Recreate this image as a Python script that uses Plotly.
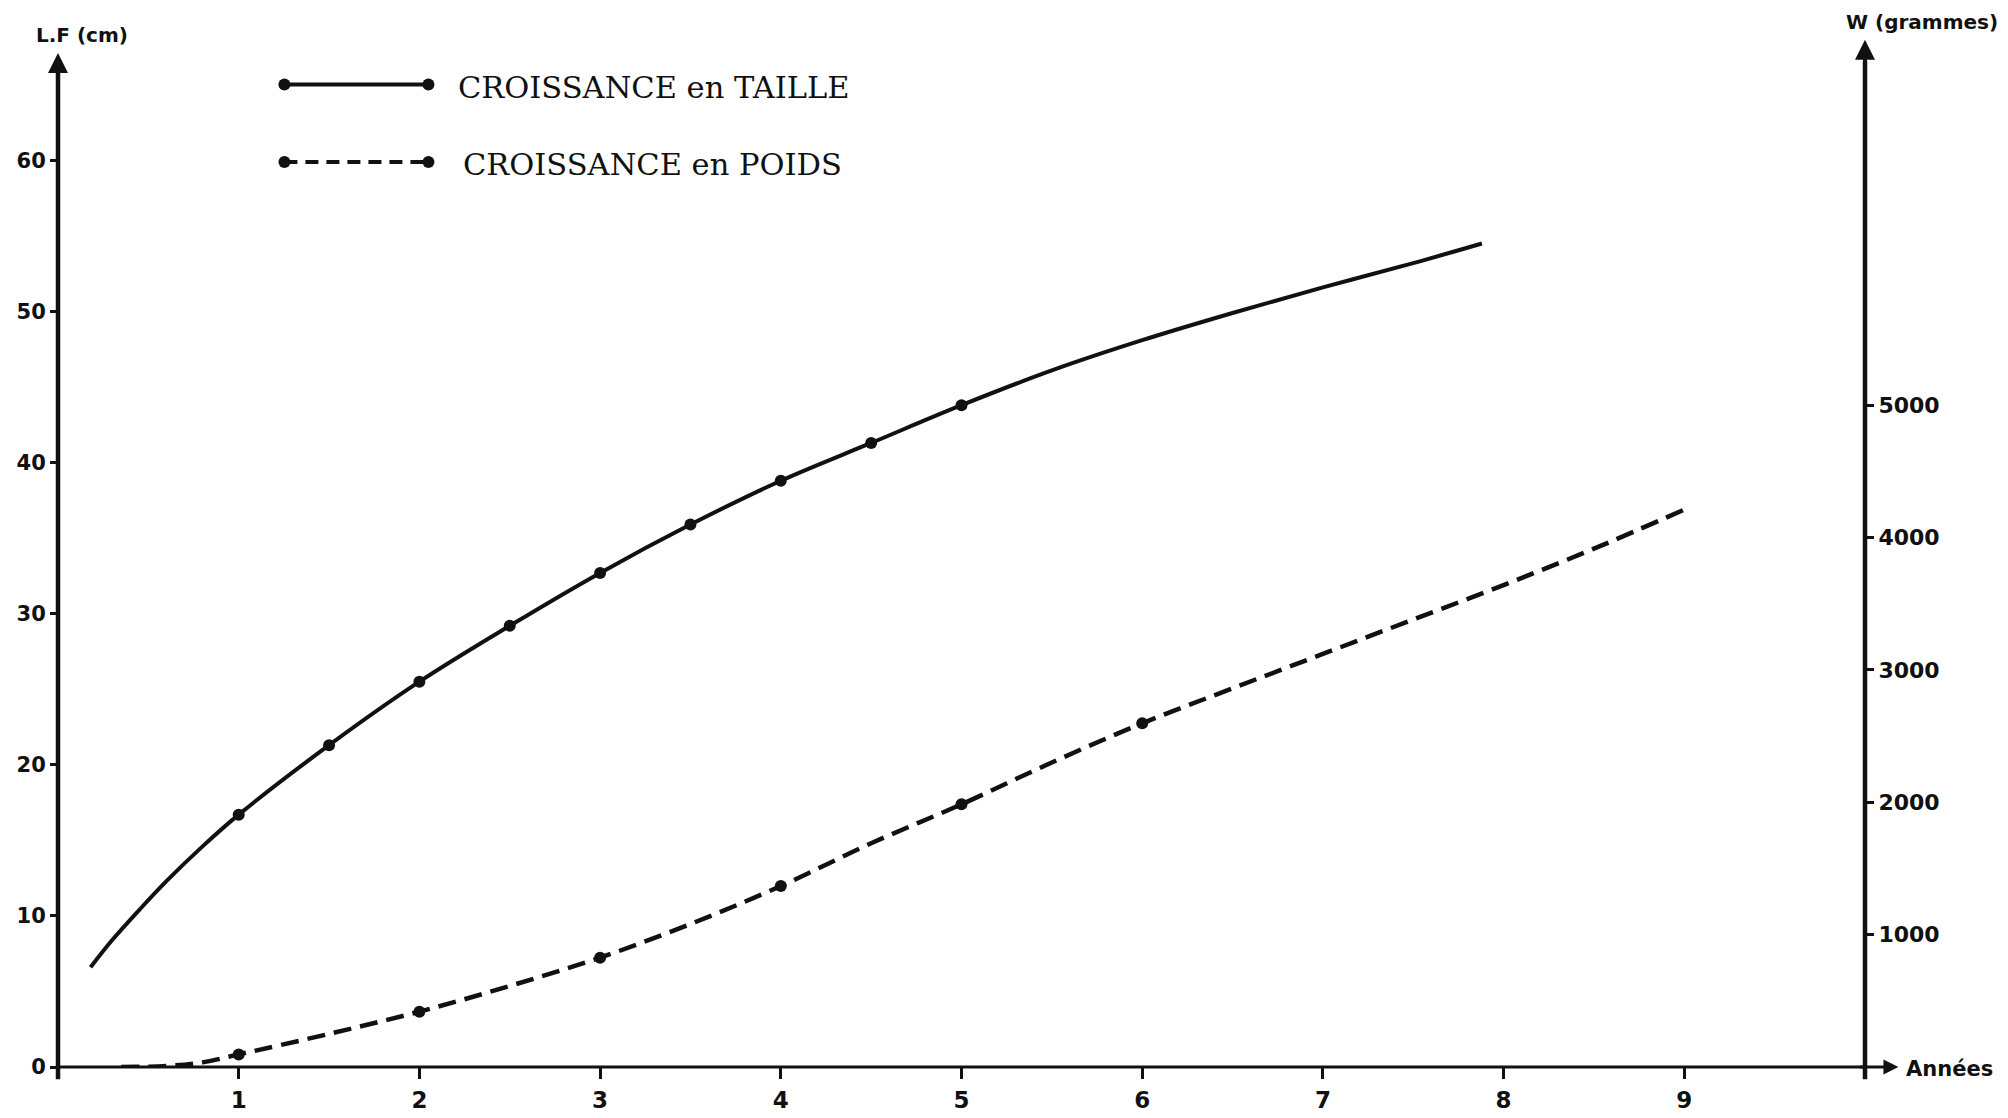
import plotly.graph_objects as go

# Croissance en taille : longueur à la fourche (cm) selon l'âge (années)
taille_annees = [0.18, 0.3, 0.45, 0.6, 0.8, 1, 1.5, 2, 2.5, 3, 3.5, 4, 4.5,
                 5, 5.5, 6, 6.5, 7, 7.5, 7.88]
taille_cm = [6.6, 8.4, 10.4, 12.3, 14.6, 16.7, 21.3, 25.5, 29.2, 32.7, 35.9,
             38.8, 41.3, 43.8, 46.1, 48.1, 49.9, 51.6, 53.2, 54.5]
taille_points = [1, 1.5, 2, 2.5, 3, 3.5, 4, 4.5, 5]

# Croissance en poids (grammes) selon l'âge (années)
poids_annees = [0.35, 0.6, 0.8, 1, 1.5, 2, 2.5, 3, 3.5, 4, 4.5, 5, 5.5, 6,
                6.5, 7, 7.5, 8, 8.5, 9]
poids_g = [0, 8, 35, 95, 250, 418, 612, 826, 1080, 1367, 1690, 1984, 2300,
           2596, 2860, 3120, 3380, 3640, 3915, 4210]
poids_points = [1, 2, 3, 4, 5, 6]

annees_ticks = [1, 2, 3, 4, 5, 6, 7, 8, 9]
cm_ticks = [0, 10, 20, 30, 40, 50, 60]
g_ticks = [1000, 2000, 3000, 4000, 5000]

legende = ["CROISSANCE en TAILLE", "CROISSANCE en POIDS"]

INK = "#111111"
BOLD = dict(family="DejaVu Sans", color=INK, weight="bold")
SERIF = dict(family="DejaVu Serif", color=INK)

fig = go.Figure()

# courbe de taille (axe de gauche)
fig.add_trace(go.Scatter(
    x=taille_annees, y=taille_cm, mode="lines",
    line=dict(color=INK, width=4, shape="spline", smoothing=1.0),
    hoverinfo="skip"))
tx = [a for a in taille_annees if a in taille_points]
ty = [v for a, v in zip(taille_annees, taille_cm) if a in taille_points]
fig.add_trace(go.Scatter(
    x=tx, y=ty, mode="markers",
    marker=dict(color=INK, size=12, symbol="circle")))

# courbe de poids (axe de droite)
fig.add_trace(go.Scatter(
    x=poids_annees, y=poids_g, mode="lines", yaxis="y2",
    line=dict(color=INK, width=4.5, dash="18px,9px", shape="spline",
              smoothing=1.0),
    hoverinfo="skip"))
px_ = [a for a in poids_annees if a in poids_points]
py_ = [v for a, v in zip(poids_annees, poids_g) if a in poids_points]
fig.add_trace(go.Scatter(
    x=px_, y=py_, mode="markers", yaxis="y2",
    marker=dict(color=INK, size=12, symbol="circle")))

# échantillons de la légende sur un repère fixe [0,1]
leg_y = [0.967, 0.8907]
leg_x = [0.1253, 0.205]
fig.add_trace(go.Scatter(
    x=leg_x, y=[leg_y[0]] * 2, xaxis="x3", yaxis="y3", mode="lines+markers",
    line=dict(color=INK, width=4), marker=dict(color=INK, size=12),
    cliponaxis=False, hoverinfo="skip"))
fig.add_trace(go.Scatter(
    x=leg_x, y=[leg_y[1]] * 2, xaxis="x3", yaxis="y3", mode="lines+markers",
    line=dict(color=INK, width=4, dash="13px,8px"),
    marker=dict(color=INK, size=12),
    cliponaxis=False, hoverinfo="skip"))

annotations = [
    dict(text=legende[0], xref="paper", yref="paper", x=0.22, y=0.9636,
         xanchor="left", yanchor="middle", showarrow=False,
         font=dict(size=30.5, **SERIF)),
    dict(text=legende[1], xref="paper", yref="paper", x=0.2232, y=0.8878,
         xanchor="left", yanchor="middle", showarrow=False,
         font=dict(size=30.5, **SERIF)),
    dict(text="L.F (cm)", xref="paper", yref="paper", x=0.0135, y=1.0157,
         xanchor="center", yanchor="middle", showarrow=False,
         font=dict(size=20, **BOLD)),
    dict(text="W (grammes)", xref="paper", yref="paper", x=1.0317, y=1.0285,
         xanchor="center", yanchor="middle", showarrow=False,
         font=dict(size=20, **BOLD)),
    dict(text="Années", xref="paper", yref="paper", x=1.0218, y=-0.002,
         xanchor="left", yanchor="middle", showarrow=False,
         font=dict(size=21, **BOLD)),
    # flèches des axes
    dict(text="", xref="paper", yref="paper", x=0, y=0.998, ax=0, ay=40,
         showarrow=True, arrowhead=2, arrowsize=1, arrowwidth=4,
         arrowcolor=INK, standoff=0),
    dict(text="", xref="paper", yref="paper", x=1, y=1.011, ax=0, ay=40,
         showarrow=True, arrowhead=2, arrowsize=1, arrowwidth=4,
         arrowcolor=INK, standoff=0),
    dict(text="", xref="paper", yref="paper", x=1.0185, y=0, ax=-40, ay=0,
         showarrow=True, arrowhead=2, arrowsize=1, arrowwidth=3,
         arrowcolor=INK, standoff=0),
]

shapes = [
    dict(type="line", xref="paper", yref="paper", x0=0, x1=0, y0=-0.012,
         y1=0.985, line=dict(color=INK, width=4.5)),
    dict(type="line", xref="paper", yref="paper", x0=1, x1=1, y0=-0.012,
         y1=0.99, line=dict(color=INK, width=4.5)),
    dict(type="line", xref="paper", yref="paper", x0=0, x1=1.0, y0=0,
         y1=0, line=dict(color=INK, width=3)),
]

fig.update_layout(
    width=2008, height=1118,
    margin=dict(l=58, r=143, t=51, b=51, autoexpand=False),
    paper_bgcolor="white", plot_bgcolor="white",
    showlegend=False,
    annotations=annotations, shapes=shapes,
    xaxis=dict(range=[0, 10], tickvals=annees_ticks, ticks="outside",
               ticklen=11, tickwidth=3, tickcolor=INK, showline=False,
               showgrid=False, zeroline=False, automargin=False,
               ticklabelstandoff=1,
               tickfont=dict(size=23, **BOLD)),
    yaxis=dict(range=[0, 67.24], tickvals=cm_ticks, ticks="outside",
               ticklen=7, tickwidth=3, tickcolor=INK, showline=False,
               showgrid=False, zeroline=False, automargin=False,
               tickfont=dict(size=21, **BOLD)),
    yaxis2=dict(range=[0, 7674], tickvals=g_ticks, ticks="outside",
                ticklen=8, tickwidth=3, tickcolor=INK, showline=False,
                showgrid=False, zeroline=False, overlaying="y", side="right",
                automargin=False,
                tickfont=dict(size=22, **BOLD)),
    xaxis3=dict(range=[0, 1], visible=False, overlaying="x"),
    yaxis3=dict(range=[0, 1], visible=False, overlaying="y"),
)

fig.write_html("out.html")
